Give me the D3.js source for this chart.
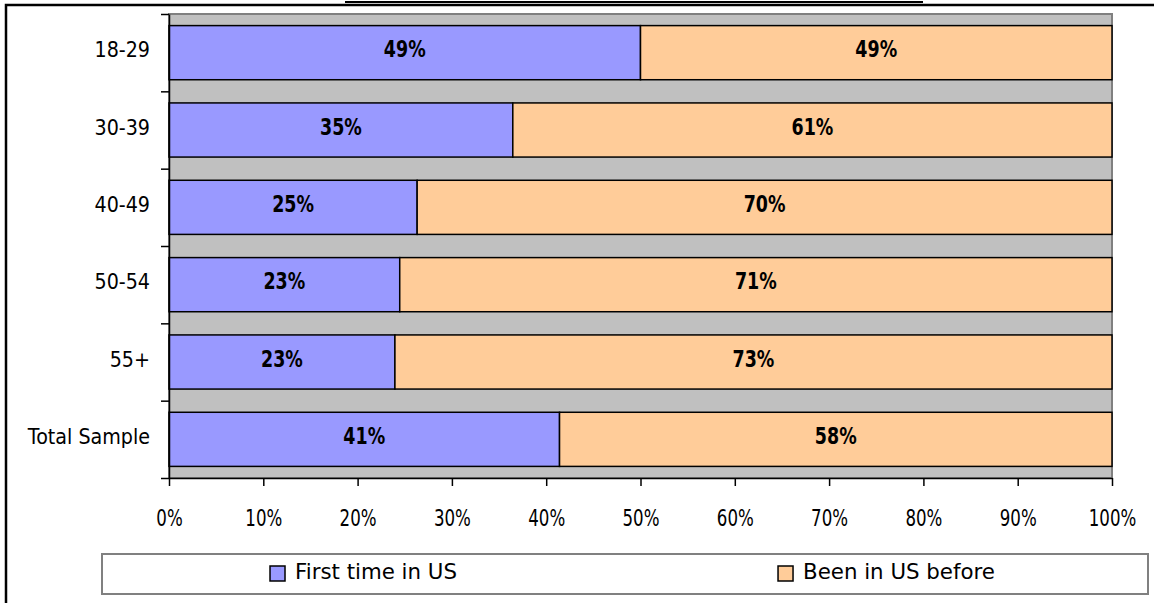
<!DOCTYPE html>
<html lang="en">
<head>
    <meta charset="UTF-8">
    <title>First time in US by age</title>
    <script src="https://cdnjs.cloudflare.com/ajax/libs/d3/7.8.5/d3.min.js"></script>
    <style>
      body { margin: 0; background: #fff; }
      text { font-family: "DejaVu Sans", sans-serif; fill: #000; }
    </style>
</head>
<body>
<svg id="chart" width="1154" height="603"></svg>
<script>
    const categories = ['18-29', '30-39', '40-49', '50-54', '55+', 'Total Sample'];
    const firstTime = [49, 35, 25, 23, 23, 41];
    const beenBefore = [49, 61, 70, 71, 73, 58];
    const seriesNames = ['First time in US', 'Been in US before'];
    const seriesColors = ['#9999FF', '#FFCC99'];
    const xTicks = [0, 0.1, 0.2, 0.3, 0.4, 0.5, 0.6, 0.7, 0.8, 0.9, 1];

    const svg = d3.select('#chart');

    // outer frame (runs off the right/bottom of the picture)
    svg.append('rect')
      .attr('x', 6).attr('y', 5)
      .attr('width', 1170).attr('height', 640)
      .attr('fill', 'none')
      .attr('stroke', '#000')
      .attr('stroke-width', 2.5);

    // underline of the cut-off caption above
    svg.append('line')
      .attr('x1', 345).attr('x2', 923)
      .attr('y1', 2).attr('y2', 2)
      .attr('stroke', '#000').attr('stroke-width', 2);

    const rows = categories.map((c, i) => ({ cat: c, first: firstTime[i], before: beenBefore[i] }));
    const stack = d3.stack().keys(['first', 'before']).offset(d3.stackOffsetExpand);
    const layers = stack(rows);

    const x = d3.scaleLinear().domain([0, 1]).range([169, 1112]);
    const y = d3.scaleBand().domain(categories).range([14, 478])
      .paddingInner(0.3).paddingOuter(0.15);

    // plot area
    svg.append('rect')
      .attr('x', x(0)).attr('y', 14)
      .attr('width', x(1) - x(0)).attr('height', 478 - 14)
      .attr('fill', '#C0C0C0')
      .attr('stroke', '#808080')
      .attr('stroke-width', 2);

    const groups = svg.selectAll('g.layer')
      .data(layers)
      .enter()
      .append('g')
      .attr('class', 'layer')
      .attr('fill', (d, i) => seriesColors[i]);

    groups.selectAll('rect')
      .data(d => d)
      .enter()
      .append('rect')
      .attr('x', d => x(d[0]))
      .attr('y', d => y(d.data.cat))
      .attr('width', d => x(d[1]) - x(d[0]))
      .attr('height', y.bandwidth())
      .attr('stroke', '#000')
      .attr('stroke-width', 1.5);

    // value labels
    groups.selectAll('text')
      .data((d, i) => d.map(p => ({ p, v: p.data[d.key] })))
      .enter()
      .append('text')
      .attr('transform', d => `translate(${(x(d.p[0]) + x(d.p[1])) / 2},${y(d.p.data.cat) + y.bandwidth() / 2 + 4.5}) scale(0.76,1)`)
      .attr('text-anchor', 'middle')
      .attr('font-size', 23)
      .attr('font-weight', 'bold')
      .text(d => d.v + '%');

    // left axis: ticks at the band boundaries
    const bounds = d3.scaleLinear().domain([0, categories.length]).range([14, 478]);
    const leftAxis = svg.append('g')
      .attr('transform', `translate(${x(0)},0)`)
      .call(d3.axisLeft(bounds).ticks(categories.length).tickFormat('').tickSize(8).tickSizeOuter(0));
    leftAxis.selectAll('path, line').attr('stroke', '#000').attr('stroke-width', 1.5);

    svg.selectAll('text.cat')
      .data(categories)
      .enter()
      .append('text')
      .attr('class', 'cat')
      .attr('transform', d => `translate(150,${y(d) + y.bandwidth() / 2 + 4.5}) scale(0.91,1)`)
      .attr('text-anchor', 'end')
      .attr('font-size', 21)
      .text(d => d);

    // bottom axis
    const bottomAxis = svg.append('g')
      .attr('transform', 'translate(0,478)')
      .call(d3.axisBottom(x).tickValues(xTicks).tickFormat(d3.format('.0%')).tickSize(8).tickSizeOuter(0));
    bottomAxis.selectAll('path, line').attr('stroke', '#000').attr('stroke-width', 1.5);
    bottomAxis.selectAll('text')
      .attr('y', 48)
      .attr('dy', 0)
      .attr('font-size', 22.5)
      .attr('font-family', '"DejaVu Sans", sans-serif')
      .attr('fill', '#000')
      .attr('transform', 'scale(0.74,1)');

    // legend
    const legX = 102, legY = 554, legW = 1046, legH = 40;
    svg.append('rect')
      .attr('x', legX).attr('y', legY)
      .attr('width', legW).attr('height', legH)
      .attr('fill', '#fff')
      .attr('stroke', '#808080')
      .attr('stroke-width', 2);

    const slot = legW / seriesNames.length;
    seriesNames.forEach((name, i) => {
      const g = svg.append('g');
      const t = g.append('text')
        .attr('font-size', 22)
        .attr('transform', 'scale(0.97,1)')
        .attr('x', 0).attr('y', 0)
        .text(name);
      const tw = t.node().getComputedTextLength() * 0.97;
      const itemW = 15 + 10 + tw;
      const start = legX + slot * i + (slot - itemW) / 2;
      g.insert('rect', 'text')
        .attr('x', 0).attr('y', -13)
        .attr('width', 15).attr('height', 15)
        .attr('fill', seriesColors[i])
        .attr('stroke', '#000')
        .attr('stroke-width', 1.5);
      t.attr('x', 25 / 0.97);
      g.attr('transform', `translate(${start},${legY + 25})`);
    });
  </script>
</body>
</html>
